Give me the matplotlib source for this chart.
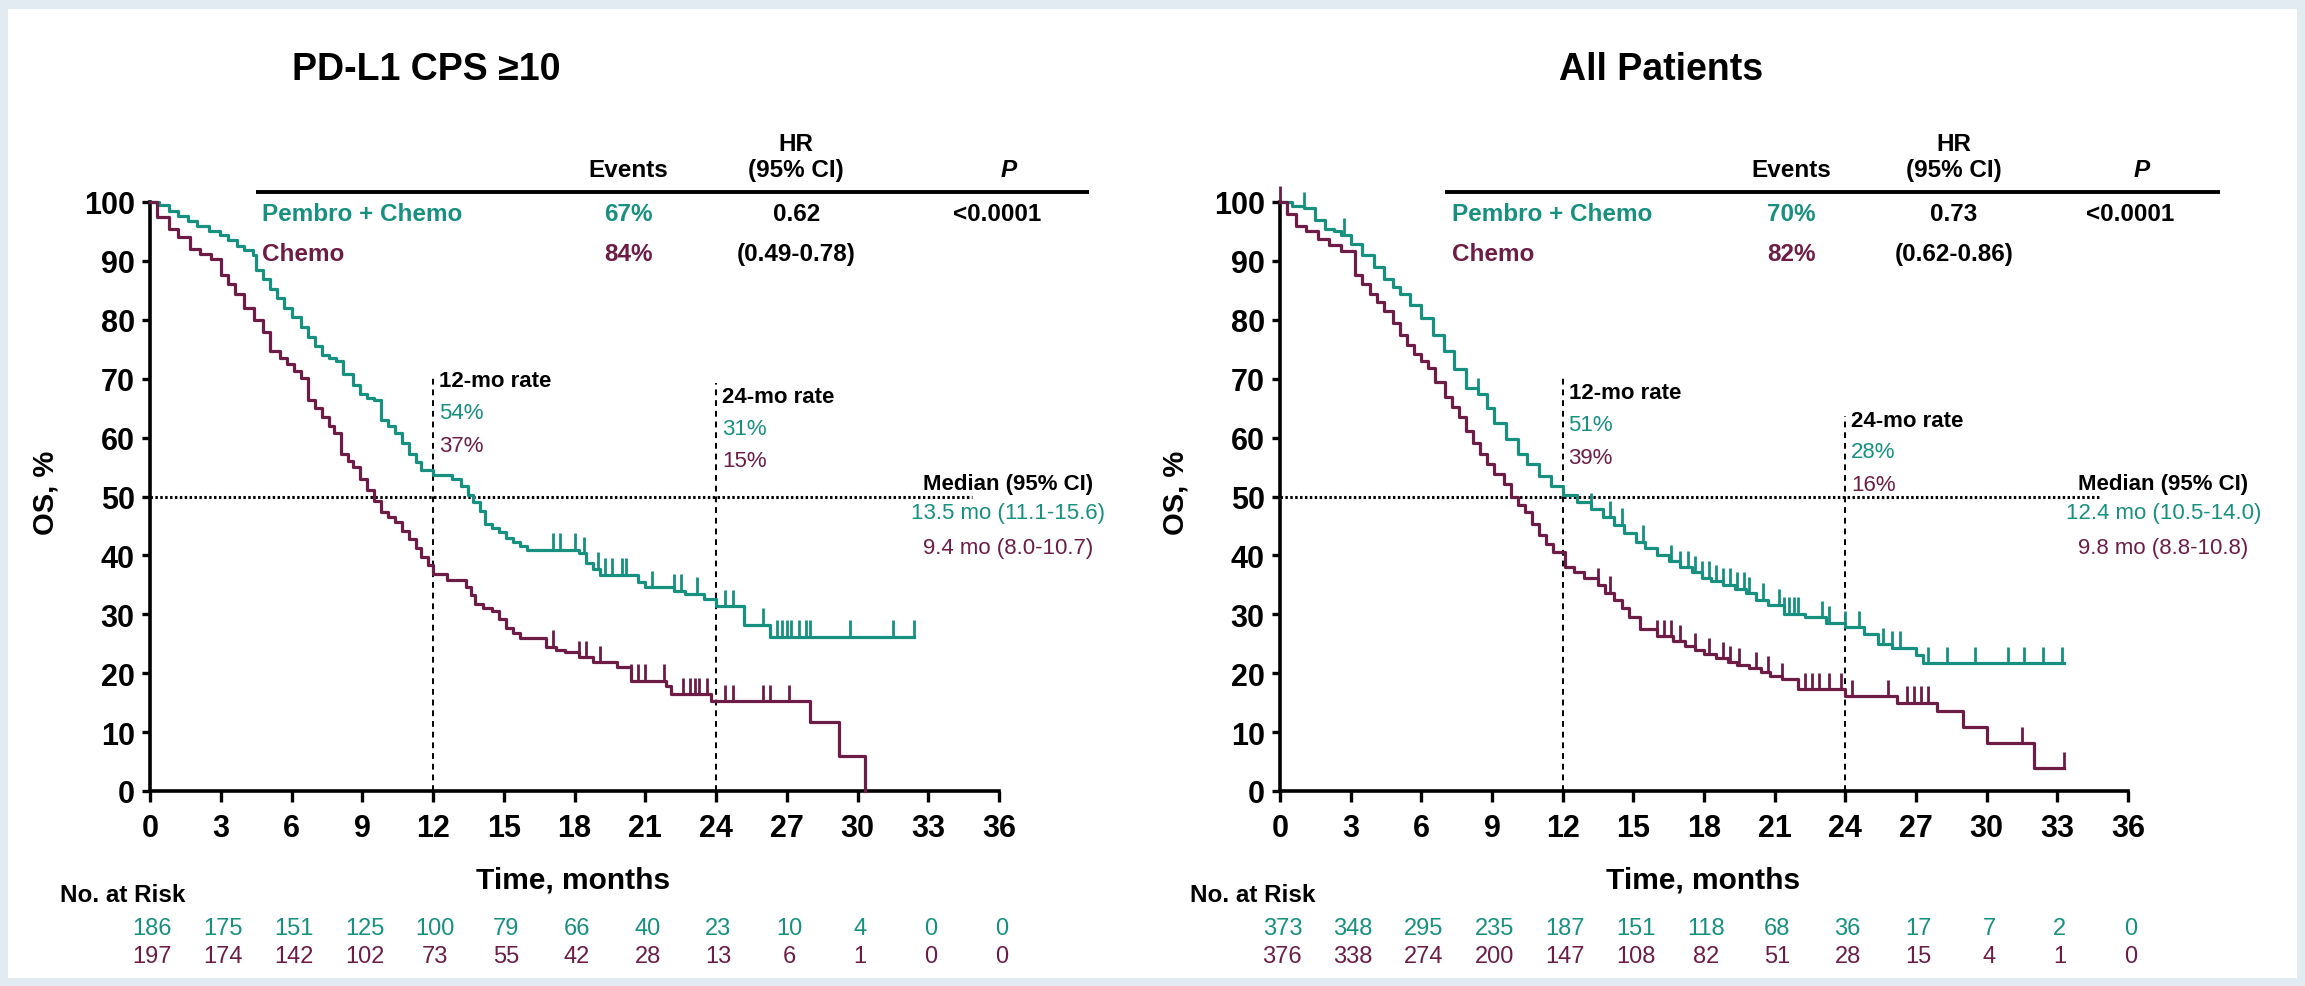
import numpy as np
import matplotlib
matplotlib.use('Agg')
import matplotlib.pyplot as plt
import matplotlib.font_manager as fm
from matplotlib.patches import Rectangle

# フォント設定（Narrow があれば使う）
names = {f.name for f in fm.fontManager.ttflist}
NARROW = 'Liberation Sans Narrow' if 'Liberation Sans Narrow' in names else 'Liberation Sans'
WIDE = 'Liberation Sans'

TEAL = '#17907f'
MAROON = '#6d1d45'

# ---- データ: PD-L1 CPS >=10 ----
cps_t_pem = [0, 0.4, 0.8, 1.2, 1.6, 2.0, 2.5, 2.95, 3.3, 3.7, 4.0, 4.35, 4.5, 4.8, 5.1, 5.4, 5.7,
             6.0, 6.4, 6.7, 7.0, 7.3, 7.6, 7.9, 8.2, 8.6, 8.9, 9.2, 9.5, 9.8, 10.1, 10.4, 10.7,
             11.0, 11.3, 11.5, 12.0, 12.8, 13.2, 13.5, 13.7, 14.0, 14.2, 14.5, 14.8, 15.1, 15.4,
             15.7, 16.0, 18.2, 18.5, 18.8, 19.1, 20.7, 21.0, 22.2, 22.7, 23.5, 24.0, 25.2, 26.3, 32.4]
cps_s_pem = [100, 99.5, 98.5, 97.6, 96.8, 96, 95, 94.4, 93.5, 92.5, 91.8, 91, 88.5, 87, 85.3, 83.7, 82,
             80.4, 78.7, 77.1, 75.5, 74, 73.5, 73, 70.8, 69, 67.4, 66.8, 66.3, 63, 62, 60.7, 59,
             57.3, 55.8, 54.5, 53.6, 53, 51.7, 50.3, 49.1, 47.5, 45.4, 44.6, 43.9, 43, 42.2,
             41.6, 41, 40.4, 38.7, 37.7, 36.7, 35.5, 34.6, 34, 33.5, 32.6, 31.4, 28.2, 26.2, 26.2]
cps_c_pem = [17.1, 17.4, 18.0, 18.4, 19.0, 19.3, 19.6, 20.0, 20.2, 21.3, 22.2, 22.5, 23.2, 24.4,
             24.7, 26.0, 26.6, 26.8, 27.0, 27.2, 27.5, 27.8, 28.0, 29.7, 31.5, 32.4]

cps_t_chemo = [0, 0.3, 0.8, 1.2, 1.7, 2.1, 2.6, 3.0, 3.3, 3.6, 4.0, 4.4, 4.8, 5.1, 5.5, 5.8, 6.1,
               6.4, 6.7, 7.0, 7.3, 7.6, 7.8, 8.1, 8.4, 8.6, 8.9, 9.2, 9.5, 9.8, 10.1, 10.4, 10.7,
               11.0, 11.3, 11.5, 11.8, 12.0, 12.6, 13.4, 13.6, 13.8, 14.1, 14.5, 14.8, 15.1, 15.4,
               15.7, 16.8, 17.2, 17.6, 18.2, 18.8, 19.8, 20.4, 21.9, 22.1, 23.8, 28.0, 29.2, 30.3]
cps_s_chemo = [100, 97.5, 95.5, 94, 92.1, 91.2, 90.4, 87.6, 86, 84.3, 82, 80, 78, 74.7, 73.5, 72.5, 71.3,
               70.2, 66.3, 65, 63.5, 62, 60.7, 57.3, 56, 55, 53, 51.1, 49.2, 47.4, 46.5, 45.6, 44.2,
               42.7, 41.3, 39.8, 38.3, 36.9, 35.8, 34.6, 33.2, 31.7, 31.1, 30.6, 29.2, 27.7, 26.8,
               25.9, 24.5, 24.0, 23.6, 22.7, 21.9, 21, 18.7, 17.8, 16.4, 15.2, 11.7, 5.9, 0]
cps_c_chemo = [17.1, 18.2, 18.5, 19.1, 20.4, 20.7, 21.0, 21.8, 22.6, 22.9, 23.1, 23.3, 23.6, 24.4,
               24.7, 26.0, 26.3, 27.1, 29.2]

cps_risk_pem = [186, 175, 151, 125, 100, 79, 66, 40, 23, 10, 4, 0, 0]
cps_risk_chemo = [197, 174, 142, 102, 73, 55, 42, 28, 13, 6, 1, 0, 0]

# ---- データ: All Patients ----
all_t_pem = [0, 0.5, 1.0, 1.5, 1.9, 2.3, 2.6, 3.0, 3.5, 4.0, 4.4, 4.8, 5.1, 5.5, 6.0, 6.5, 6.95,
             7.4, 7.9, 8.4, 8.8, 9.1, 9.6, 10.1, 10.5, 11.0, 11.5, 12.0, 12.6, 13.2, 13.7, 14.2,
             14.6, 15.1, 15.5, 16.0, 16.5, 17.0, 17.5, 17.9, 18.3, 18.8, 19.3, 19.8, 20.2, 20.7,
             21.4, 22.3, 23.2, 24.0, 24.8, 25.4, 26.0, 27.0, 27.3, 33.3]
all_s_pem = [100, 99.4, 98.9, 97, 95.5, 95, 94.4, 92.8, 91, 89, 87, 85.5, 84.3, 82.5, 80.3, 77.5, 74.7,
             71.6, 68.5, 67.4, 65, 62.4, 59.8, 57.3, 55.5, 53.4, 51.8, 50.3, 49, 47.8, 46.5, 45.2,
             43.8, 42.3, 41.2, 40, 39, 38, 37.1, 36.2, 35.6, 35, 34.3, 33.6, 32.5, 31.5,
             30.1, 29.5, 28.6, 27.8, 26.6, 24.9, 24.3, 23.1, 21.7, 21.7]
all_c_pem = [1.0, 2.7, 8.4, 13.2, 14.0, 14.5, 15.4, 16.6, 17.0, 17.3, 17.6, 17.9, 18.2, 18.5, 18.8,
             19.1, 19.4, 19.7, 19.9, 20.5, 21.2, 21.4, 21.6, 21.8, 22.0, 23.0, 23.3, 24.0, 24.6,
             25.6, 26.0, 26.3, 27.5, 28.3, 29.5, 30.9, 31.6, 32.4, 33.2]

all_t_chemo = [0, 0.3, 0.7, 1.1, 1.6, 2.1, 2.6, 3.2, 3.5, 3.8, 4.1, 4.4, 4.8, 5.1, 5.4, 5.7, 6.0,
               6.3, 6.6, 7.0, 7.3, 7.6, 7.9, 8.2, 8.5, 8.8, 9.1, 9.5, 9.8, 10.1, 10.4, 10.7, 11.0,
               11.3, 11.6, 12.1, 12.5, 12.9, 13.5, 13.8, 14.2, 14.5, 14.8, 15.3, 16.0, 16.7, 17.2,
               17.6, 18.0, 18.5, 19.0, 19.4, 19.9, 20.4, 20.8, 21.3, 22.0, 24.0, 26.2, 27.9, 29.0,
               30.0, 32.0, 33.3]
all_s_chemo = [100, 98, 96, 95, 93.8, 92.7, 91.6, 87.6, 86, 84.3, 83, 81.5, 79.5, 77.5, 75.8, 74.2, 73,
               71.9, 69.4, 66.9, 65.2, 63.5, 61.2, 59, 57.3, 55.6, 53.9, 52.2, 50, 48.6, 47.3, 45.4, 43.5,
               42, 40.6, 38, 37.1, 36.2, 35, 33.7, 32.4, 31, 29.5, 27.5, 26.3, 25.4, 24.7,
               24, 23.2, 22.5, 21.9, 21.4, 20.8, 20.2, 19.6, 19, 17.3, 16.1, 15, 13.5, 10.8,
               8.1, 3.9, 3.9]
all_c_chemo = [0.0, 13.5, 14.0, 16.0, 16.3, 16.6, 17.0, 17.6, 18.2, 18.8, 19.1, 19.5, 20.2, 20.7, 21.3,
               22.3, 22.6, 22.9, 23.3, 23.8, 24.3, 25.8, 26.6, 26.9, 27.2, 27.5, 29.0, 31.5, 33.3]

all_risk_pem = [373, 348, 295, 235, 187, 151, 118, 68, 36, 17, 7, 2, 0]
all_risk_chemo = [376, 338, 274, 200, 147, 108, 82, 51, 28, 15, 4, 1, 0]

risk_times = list(range(0, 37, 3))


def surv_at(t, s, tc):
    # 打ち切り時点の生存率（ステップ関数）
    idx = np.searchsorted(np.array(t), np.array(tc), side='right') - 1
    return np.array(s)[idx]


def draw_panel(ax, title_x, title, curves, table, rate12, rate24, medians, risk_pem, risk_chemo,
               line12_top, line24_top, lbl12_y, lbl24_y, cols, med_x):
    # 曲線
    for t, s, cens, col in curves:
        ax.step(t, s, where='post', color=col, lw=2.3, clip_on=False, zorder=3)
        ys = surv_at(t, s, cens)
        ax.vlines(cens, ys, ys + 2.8, color=col, lw=2.0, clip_on=False, zorder=3)

    # 中央値ライン・12/24ヶ月ライン
    ax.plot([0, 34.85], [50, 50], color='black', lw=2.2, ls=(0, (0.8, 0.8)), zorder=2)
    ax.plot([12, 12], [0, line12_top], color='black', lw=1.4, ls=(0, (3, 2.5)), zorder=2)
    ax.plot([24, 24], [0, line24_top], color='black', lw=1.4, ls=(0, (3, 2.5)), zorder=2)

    # 12/24ヶ月の率
    ax.text(12.25, lbl12_y, '12-mo rate', fontsize=16, fontweight='bold', family=NARROW,
            va='center', ha='left')
    ax.text(12.25, lbl12_y - 5.5, rate12[0], fontsize=16, color=TEAL, family=NARROW, va='center')
    ax.text(12.25, lbl12_y - 11, rate12[1], fontsize=16, color=MAROON, family=NARROW, va='center')
    ax.text(24.25, lbl24_y, '24-mo rate', fontsize=16, fontweight='bold', family=NARROW,
            va='center', ha='left')
    ax.text(24.25, lbl24_y - 5.3, rate24[0], fontsize=16, color=TEAL, family=NARROW, va='center')
    ax.text(24.25, lbl24_y - 10.8, rate24[1], fontsize=16, color=MAROON, family=NARROW, va='center')

    # 中央値テキスト
    ax.text(med_x, 52.2, 'Median (95% CI)', fontsize=16, fontweight='bold', family=NARROW,
            ha='center', va='center', clip_on=False)
    ax.text(med_x, 47.3, medians[0], fontsize=16, color=TEAL, family=NARROW,
            ha='center', va='center', clip_on=False)
    ax.text(med_x, 41.3, medians[1], fontsize=16, color=MAROON, family=NARROW,
            ha='center', va='center', clip_on=False)

    # HR テーブル
    line_x0, line_x1, name_x, ev_x, hr_x, p_x, pv_x = cols
    ax.plot([line_x0, line_x1], [101.7, 101.7], color='black', lw=2.8,
            clip_on=False, solid_capstyle='butt')
    hdr = dict(fontsize=17.5, fontweight='bold', family=NARROW, ha='center', va='center')
    ax.text(ev_x, 105.6, 'Events', **hdr)
    ax.text(hr_x, 110.0, 'HR', **hdr)
    ax.text(hr_x, 105.6, '(95% CI)', **hdr)
    ax.text(p_x, 105.6, 'P', fontsize=17.5, fontweight='bold', style='italic', family=NARROW,
            ha='center', va='center')
    row = dict(fontsize=17.5, fontweight='bold', family=NARROW, va='center')
    ax.text(name_x, 98, 'Pembro + Chemo', color=TEAL, ha='left', **row)
    ax.text(ev_x, 98, table[0], color=TEAL, ha='center', **row)
    ax.text(hr_x, 98, table[2], color='black', ha='center', **row)
    ax.text(pv_x, 98, table[4], color='black', ha='center', **row)
    ax.text(name_x, 91.3, 'Chemo', color=MAROON, ha='left', **row)
    ax.text(ev_x, 91.3, table[1], color=MAROON, ha='center', **row)
    ax.text(hr_x, 91.3, table[3], color='black', ha='center', **row)

    # 軸
    ax.set_xlim(0, 36)
    ax.set_ylim(0, 100)
    ax.set_xticks(range(0, 37, 3))
    ax.set_yticks(range(0, 101, 10))
    for side in ['top', 'right']:
        ax.spines[side].set_visible(False)
    for side in ['left', 'bottom']:
        ax.spines[side].set_linewidth(2.6)
    ax.tick_params(axis='x', direction='out', length=8, width=2.4, pad=8, labelsize=22)
    ax.tick_params(axis='y', direction='out', length=6, width=2.4, pad=5, labelsize=22)
    for lab in ax.get_xticklabels() + ax.get_yticklabels():
        lab.set_family(NARROW)
        lab.set_fontweight('bold')
    ax.set_facecolor('none')

    ax.text(-4.45, 50.8, 'OS, %', rotation=90, fontsize=21, fontweight='bold', family=WIDE,
            ha='center', va='center', transform=ax.transData)
    ax.text(17.95, -0.150, 'Time, months', fontsize=21.5, fontweight='bold', family=NARROW,
            ha='center', va='center', transform=ax.get_xaxis_transform())

    # リスク数
    tr = ax.get_xaxis_transform()
    ax.text(-3.8, -0.176, 'No. at Risk', fontsize=17.5, fontweight='bold', family=NARROW,
            ha='left', va='center', transform=tr)
    for x, a, b in zip(risk_times, risk_pem, risk_chemo):
        ax.text(x + 0.1, -0.232, str(a), fontsize=17, color=TEAL, family=NARROW,
                ha='center', va='center', transform=tr)
        ax.text(x + 0.1, -0.280, str(b), fontsize=17, color=MAROON, family=NARROW,
                ha='center', va='center', transform=tr)

    # タイトル
    ax.figure.text(title_x, 1 - 70 / 987, title, fontsize=27, fontweight='bold',
                   family=[WIDE, 'DejaVu Sans'], ha='center', va='center')


fig = plt.figure(figsize=(23.05, 9.87), dpi=100)
fig.patch.set_facecolor('#e2ebf1')
fig.patches.append(Rectangle((8 / 2305, 8 / 987), 1 - 16 / 2305, 1 - 18 / 987,
                             transform=fig.transFigure, facecolor='white', edgecolor='none', zorder=-10))

ax1 = fig.add_axes([150 / 2305, 195 / 987, 849 / 2305, 589 / 987])
ax2 = fig.add_axes([1280 / 2305, 195 / 987, 848 / 2305, 589 / 987])

draw_panel(ax1, 426 / 2305, 'PD-L1 CPS ≥10',
           [(cps_t_pem, cps_s_pem, cps_c_pem, TEAL), (cps_t_chemo, cps_s_chemo, cps_c_chemo, MAROON)],
           ['67%', '84%', '0.62', '(0.49-0.78)', '<0.0001'],
           ['54%', '37%'], ['31%', '15%'],
           ['13.5 mo (11.1-15.6)', '9.4 mo (8.0-10.7)'],
           cps_risk_pem, cps_risk_chemo,
           70.5, 69.2, 69.7, 66.9,
           (4.5, 39.8, 4.74, 20.3, 27.4, 36.4, 35.9), 36.4)

draw_panel(ax2, 1661 / 2305, 'All Patients',
           [(all_t_pem, all_s_pem, all_c_pem, TEAL), (all_t_chemo, all_s_chemo, all_c_chemo, MAROON)],
           ['70%', '82%', '0.73', '(0.62-0.86)', '<0.0001'],
           ['51%', '39%'], ['28%', '16%'],
           ['12.4 mo (10.5-14.0)', '9.8 mo (8.8-10.8)'],
           all_risk_pem, all_risk_chemo,
           70.2, 63.7, 67.7, 62.9,
           (7.0, 39.9, 7.3, 21.7, 28.6, 36.6, 36.1), 37.5)

fig.savefig('out.png', dpi=100, facecolor=fig.get_facecolor())
